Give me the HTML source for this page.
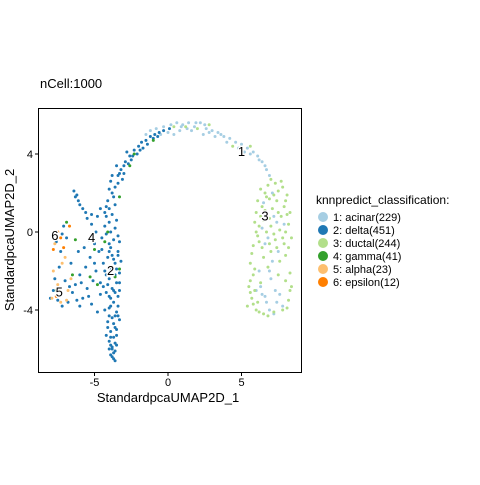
<!DOCTYPE html>
<html><head><meta charset="utf-8"><style>body{margin:0;background:#fff}svg text{font-family:"Liberation Sans",sans-serif}</style></head>
<body>
<svg id="chart" width="480" height="480" xmlns="http://www.w3.org/2000/svg">
<rect width="480" height="480" fill="#fff"/>
<text x="40" y="88" font-size="13">nCell:1000</text>
<rect x="38.5" y="108.5" width="263" height="264" fill="none" stroke="#000" stroke-width="1"/>
<g id="points"></g>
<g id="axes"></g>
<g id="labels"></g>
<text x="168" y="402" font-size="13" text-anchor="middle">StandardpcaUMAP2D_1</text>
<text transform="translate(14,240) rotate(-90)" font-size="13" text-anchor="middle">StandardpcaUMAP2D_2</text>
<g id="legend">
<text x="316" y="204" font-size="12">knnpredict_classification:</text>
</g>
</svg>
<script>
const categories=["1: acinar(229)","2: delta(451)","3: ductal(244)","4: gamma(41)","5: alpha(23)","6: epsilon(12)"];
const colors=["#A6CEE3","#1F78B4","#B2DF8A","#33A02C","#FDBF6F","#FF7F00"];
const xTicks=[-5,0,5];
const yTicks=[4,0,-4];
const acinar=[[-1.5,5.0],[-0.8,5.3],[-0.3,5.4],[0.2,5.5],[0.6,5.6],[1.0,5.5],[1.4,5.6],[1.8,5.4],[2.2,5.6],[2.6,5.3],[3.0,5.2],[3.4,5.1],[3.8,4.9],[4.2,4.8],[4.6,4.6],[5.0,4.5],[5.4,4.3],[5.8,4.1],[6.1,3.9],[6.4,3.6],[0.8,5.2],[1.6,5.2],[2.4,5.0],[3.2,4.9],[-1.2,5.2],[0.0,5.1],[6.7,3.2],[6.9,2.9],[6.5,1.5],[7.2,0.8],[6.8,-0.3],[7.5,-1.0],[6.2,-2.0],[7.0,-2.4],[6.6,-3.3],[7.4,-3.6],[7.8,-3.8],[6.0,-3.0],[7.9,0.4],[7.1,2.0],[6.4,0.2],[7.3,-3.0],[6.9,-4.0],[0.4,5.0],[2.8,5.1],[4.0,4.6],[5.2,4.1],[6.3,-2.8],[7.1,-1.5],[-0.5,5.0],[0.9,5.4],[1.3,5.3],[1.9,5.6],[2.5,5.5],[3.6,5.0],[4.8,4.3],[5.6,4.0],[6.2,3.7],[6.6,3.4],[6.9,-2.0],[6.7,-3.6],[7.2,-4.2],[6.4,-3.2],[7.6,-3.2],[6.6,-0.6],[7.4,0.5]];
const delta=[[-4.2,0.8],[-4,1.2],[-4.1,1.6],[-3.8,2],[-3.6,2.3],[-3.9,2.6],[-3.4,2.9],[-3.2,3.2],[-3.5,3.4],[-2.9,3.6],[-2.6,3.9],[-2.8,4.1],[-2.3,4.2],[-2,4.4],[-1.8,4.6],[-1.5,4.7],[-1.2,4.9],[-0.9,5],[-0.6,5.1],[-0.3,5.2],[-1.7,4.3],[-2.5,3.7],[-3.1,2.7],[-3.7,1.8],[-3.3,3.0],[-2.1,4.0],[-1.0,4.8],[0.1,5.3],[-4.3,1.0],[-3.0,3.4],[-4,0.5],[-3.6,0.2],[-4.2,-0.1],[-3.7,-0.4],[-3.9,-0.8],[-3.4,-1.0],[-4.1,-1.3],[-3.6,-1.6],[-3.9,-1.9],[-3.3,-2.1],[-4.0,-2.4],[-3.5,-2.6],[-3.8,-2.9],[-4.2,-3.1],[-3.4,-3.3],[-3.7,-3.6],[-4.0,-3.9],[-3.5,-4.1],[-3.8,-4.4],[-4.1,-4.6],[-3.6,-4.9],[-3.9,-5.1],[-3.7,-5.4],[-4.0,-5.6],[-3.8,-5.9],[-3.6,-6.1],[-3.9,-6.3],[-3.7,-6.5],[-4.3,-2.0],[-3.2,-1.5],[-4.4,-2.8],[-3.3,-3.0],[-3.5,-5.0],[-4.2,-5.3],[-3.6,-5.7],[-3.8,-6.0],[-3.3,-4.5],[-4.3,-4.0],[-3.9,-3.4],[-3.6,-2.2],[-4.0,-1.0],[-3.3,-0.5],[-3.5,0.6],[-4.3,0.3],[-6.4,2.1],[-6.2,1.9],[-6.1,1.6],[-6.0,1.4],[-5.8,1.2],[-5.6,1.0],[-5.5,0.7],[-4.6,1.2],[-4.8,0.8],[-5.2,0.4],[-4.9,0.0],[-4.5,-0.3],[-5.0,-0.6],[-4.7,-1.0],[-5.3,-1.3],[-4.4,-1.6],[-5.6,-1.8],[-4.9,-2.0],[-6.0,-2.2],[-5.1,-2.5],[-6.3,-2.7],[-5.5,-2.9],[-4.6,-3.2],[-5.8,-3.4],[-6.5,-3.1],[-5.2,-3.7],[-4.8,-4.1],[-6.8,-3.6],[-7.0,-2.5],[-6.6,-1.6],[-7.3,-1.0],[-7.6,-0.5],[-7.4,-1.8],[-7.8,-3.0],[-8.0,-3.4],[-7.2,-3.8],[-6.2,-3.5],[-6.9,-0.3],[-7.1,0.3],[-5.7,-0.8],[-4.6,-2.6],[-3.4,-3.8],[-4.1,-4.9],[-3.5,-5.3],[-3.9,-5.8],[-3.7,-6.2],[-3.6,-4.3],[-4.0,-3.3],[-3.5,-1.9],[-3.8,-1.2],[-3.9,0.0],[-3.8,2.9],[-3.4,2.5],[-3.0,3.0],[-2.7,3.5],[-2.4,3.9],[-1.9,4.2],[-1.4,4.5],[-0.7,4.9],[-4.0,2.2],[-3.6,1.4],[-4.2,1.3],[-3.8,0.9],[-3.4,-0.2],[-4.0,-0.6],[-3.7,-1.4],[-3.3,-2.6],[-4.1,-2.7],[-3.6,-3.1],[-3.9,-3.8],[-3.4,-4.3],[-4.0,-4.3],[-3.7,-4.7],[-3.9,-5.4],[-3.5,-5.8],[-3.8,-6.4],[-3.6,-6.6],[-4.0,-6.0],[-3.7,-3.0],[-4.2,-2.2],[-3.4,-1.2],[-5.4,-0.4],[-6.1,-1.0],[-5.9,-2.6],[-6.7,-2.8],[-5.4,-3.3],[-6.0,-3.8],[-7.5,-3.5],[-7.7,-2.4],[-7.2,-0.1],[-5.0,-1.6],[-4.5,-0.9],[-5.2,0.9],[-6.3,1.8]];
const ductal=[[0.4,5.4],[1.2,5.4],[2.0,5.3],[2.8,5.5],[4.4,4.4],[5.6,4.4],[7.0,2.7],[6.3,2.2],[6.8,2.4],[7.3,2.5],[7.8,2.3],[8.1,1.9],[6.1,1.6],[6.7,1.8],[7.4,1.6],[7.9,1.3],[8.3,1.0],[6.0,1.0],[6.6,1.1],[7.1,1.2],[7.7,0.8],[8.2,0.4],[5.9,0.5],[6.5,0.6],[7.0,0.3],[7.6,0.1],[8.4,-0.3],[6.1,-0.2],[6.7,0.0],[7.3,-0.4],[7.9,-0.6],[5.8,-0.7],[6.4,-0.8],[7.0,-1.0],[8.0,-1.2],[7.6,-1.5],[6.9,1.7],[7.5,2.1],[6.2,0.3],[5.6,-1.6],[5.8,-2.2],[5.5,-2.8],[5.7,-3.4],[5.4,-3.8],[6.0,-4.0],[6.5,-4.2],[7.2,-4.1],[7.8,-4.0],[8.2,-3.5],[8.4,-2.8],[8.3,-2.1],[6.3,-2.6],[6.8,-1.8],[7.5,-2.2],[6.1,-3.6],[7.7,2.6],[8.0,0.0],[6.4,1.3],[5.9,-3.0],[8.1,-3.9],[6.6,2.0],[7.2,1.9],[8.0,1.6],[6.3,0.8],[6.9,0.7],[7.5,1.0],[8.1,0.9],[6.0,0.0],[7.2,-0.1],[7.8,-0.3],[6.2,-0.5],[6.9,-0.6],[7.4,-0.8],[8.2,-0.8],[5.7,-1.1],[6.5,-1.3],[5.6,-2.5],[5.6,-3.1],[5.8,-3.7],[6.2,-4.1],[6.8,-4.3],[8.3,-3.0],[8.0,-2.5],[5.9,-1.9]];
const gamma=[[-4.3,-0.5],[-5.0,-0.9],[-6.3,-0.4],[-4.1,0.0],[-3.6,-2.3],[-6.9,0.5],[-7.6,-3.0],[-5.3,-2.3],[-4.8,-2.7],[-6.5,-2.2],[-3.3,-1.9],[-2.6,3.4],[-1.0,4.7],[-2.3,4.0],[-3.3,1.8]];
const alpha=[[-7.7,-0.6],[-7.2,-1.6],[-7.9,-3.4],[-7.3,-3.6],[-6.8,-3.0],[-7.5,-2.7],[-6.9,-3.5],[-7.8,-2.0],[-6.6,-2.4],[-7.0,-1.3]];
const epsilon=[[-7.5,0.0],[-7.8,-0.9],[-7.3,-0.3],[-6.7,0.3],[-7.6,-3.3],[-7.1,-0.8]];
const clusterLabels=["1","2","3","4","5","6"];
const labelX=[5.0,-3.9,6.6,-5.2,-7.4,-7.7];
const labelY=[4.1,-2.0,0.8,-0.3,-3.1,-0.2];

const NS="http://www.w3.org/2000/svg";
const xs=v=>168+v*14.7;
const ys=v=>232-v*19.5;
const series=[acinar,delta,ductal,gamma,alpha,epsilon];
const pts=document.getElementById('points');
series.forEach((s,i)=>{s.forEach(p=>{
  const c=document.createElementNS(NS,'circle');
  
  
  c.setAttribute('cx',xs(p[0]));c.setAttribute('cy',ys(p[1]));c.setAttribute('r',1.5);c.setAttribute('fill',colors[i]);
  pts.appendChild(c);});});
const ax=document.getElementById('axes');
xTicks.forEach(t=>{
  const l=document.createElementNS(NS,'line');
  
  
  l.setAttribute('x1',xs(t));l.setAttribute('x2',xs(t));l.setAttribute('y1',372.5);l.setAttribute('y2',376);l.setAttribute('stroke','#000');ax.appendChild(l);
  const tx=document.createElementNS(NS,'text');
  
  
  tx.setAttribute('x',xs(t));tx.setAttribute('y',386);tx.setAttribute('font-size','11');tx.setAttribute('text-anchor','middle');tx.textContent=t;ax.appendChild(tx);});
yTicks.forEach(t=>{
  const l=document.createElementNS(NS,'line');
  
  
  l.setAttribute('x1',35);l.setAttribute('x2',38.5);l.setAttribute('y1',ys(t));l.setAttribute('y2',ys(t));l.setAttribute('stroke','#000');ax.appendChild(l);
  const tx=document.createElementNS(NS,'text');
  
  
  tx.setAttribute('x',33);tx.setAttribute('y',ys(t)+4);tx.setAttribute('font-size','11');tx.setAttribute('text-anchor','end');tx.textContent=t;ax.appendChild(tx);});
const lb=document.getElementById('labels');
clusterLabels.forEach((s,i)=>{
  const tx=document.createElementNS(NS,'text');
  
  
  tx.setAttribute('x',xs(labelX[i]));tx.setAttribute('y',ys(labelY[i])+4);tx.setAttribute('font-size','13');tx.setAttribute('text-anchor','middle');
  tx.setAttribute('stroke','#fff');tx.setAttribute('stroke-width','2.5');tx.setAttribute('paint-order','stroke');tx.textContent=s;lb.appendChild(tx);});
const lg=document.getElementById('legend');
categories.forEach((s,i)=>{
  const c=document.createElementNS(NS,'circle');
  
  
  c.setAttribute('cx',323);c.setAttribute('cy',217+i*13);c.setAttribute('r',5);c.setAttribute('fill',colors[i]);lg.appendChild(c);
  const tx=document.createElementNS(NS,'text');
  
  
  tx.setAttribute('x',333);tx.setAttribute('y',221+i*13);tx.setAttribute('font-size','11');tx.textContent=s;lg.appendChild(tx);});
</script>
</body></html>
